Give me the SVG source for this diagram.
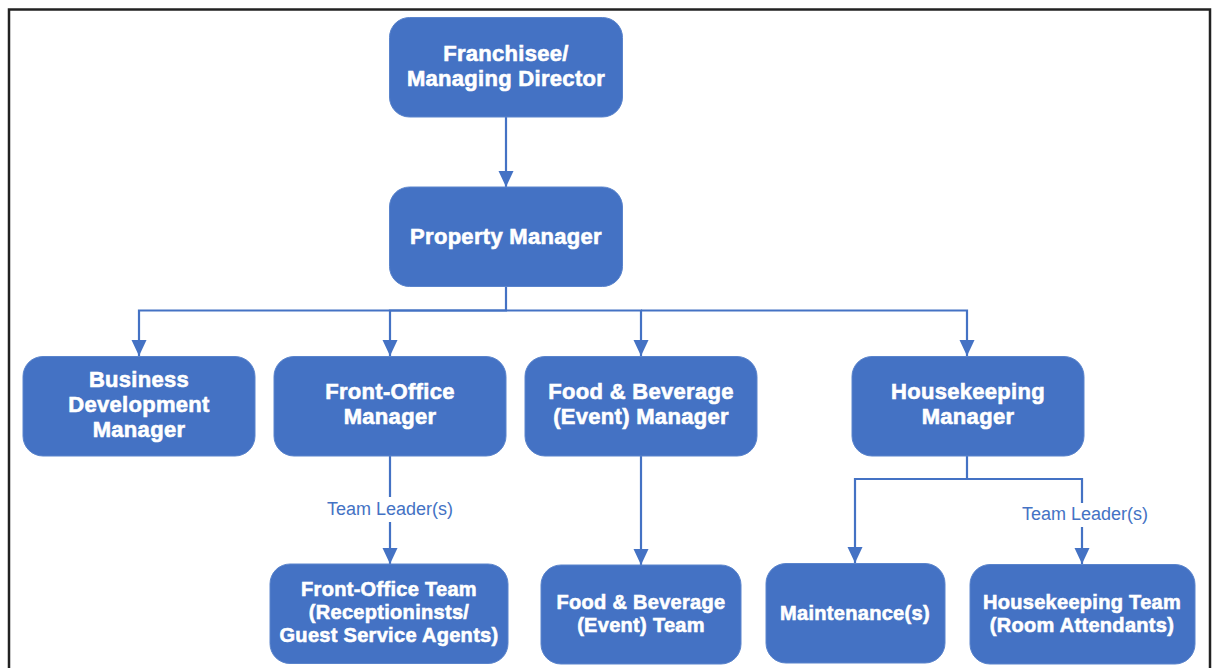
<svg xmlns="http://www.w3.org/2000/svg" width="1215" height="668" viewBox="0 0 1215 668">
  <defs>
    <marker id="arrow" viewBox="0 0 16 16" refX="16" refY="8" markerWidth="16" markerHeight="16" markerUnits="userSpaceOnUse" orient="auto">
      <path d="M0,0.5 L16,8 L0,15.5 Z" fill="#4472C4"/>
    </marker>
    <style>
      .box { fill: #4472C4; stroke: #5a84cc; stroke-width: 1; }
      .t { font-family: "Liberation Sans", Arial, sans-serif; font-weight: bold; fill: #ffffff; stroke: #ffffff; stroke-width: 0.6; text-anchor: middle; }
      .big { font-size: 22px; letter-spacing: 0.3px; }
      .small { font-size: 20px; letter-spacing: 0.3px; }
      .wire { fill: none; stroke: #4472C4; stroke-width: 2.2; }
      .lbl { font-family: "Liberation Sans", Arial, sans-serif; font-size: 18px; fill: #4472C4; text-anchor: middle; }
    </style>
  </defs>

  <rect width="1215" height="668" fill="#ffffff"/>
  <!-- outer frame -->
  <rect x="9" y="9.5" width="1201" height="700" fill="none" stroke="#222222" stroke-width="2.5"/>

  <!-- connectors -->
  <g id="connectors">
    <path class="wire" d="M506,117 V187" marker-end="url(#arrow)"/>
    <path class="wire" d="M506,286 V310.5 H139 V356" marker-end="url(#arrow)"/>
    <path class="wire" d="M506,310.5 H390 V356" marker-end="url(#arrow)"/>
    <path class="wire" d="M506,310.5 H641 V356" marker-end="url(#arrow)"/>
    <path class="wire" d="M641,310.5 H967 V356" marker-end="url(#arrow)"/>
    <path class="wire" d="M390,456 V564" marker-end="url(#arrow)"/>
    <path class="wire" d="M641,456 V565" marker-end="url(#arrow)"/>
    <path class="wire" d="M967,456 V479 H855 V563" marker-end="url(#arrow)"/>
    <path class="wire" d="M967,479 H1082 V564" marker-end="url(#arrow)"/>
    <rect x="322" y="497" width="136" height="25" fill="#ffffff"/>
    <text class="lbl" x="390" y="515">Team Leader(s)</text>
    <rect x="1017" y="503" width="136" height="24" fill="#ffffff"/>
    <text class="lbl" x="1085" y="520">Team Leader(s)</text>
  </g>

  <g id="franchisee">
    <rect class="box" x="389.5" y="17.5" width="233" height="99.5" rx="20"/>
    <text class="t big" x="506" y="61">Franchisee/</text>
    <text class="t big" x="506" y="86">Managing Director</text>
  </g>

  <g id="property-manager">
    <rect class="box" x="389.5" y="187" width="233" height="99.5" rx="20"/>
    <text class="t big" x="506" y="244">Property Manager</text>
  </g>

  <g id="business-development">
    <rect class="box" x="23" y="356.5" width="232" height="99.5" rx="20"/>
    <text class="t big" x="139" y="387">Business</text>
    <text class="t big" x="139" y="412">Development</text>
    <text class="t big" x="139" y="437">Manager</text>
  </g>

  <g id="front-office-manager">
    <rect class="box" x="274" y="356.5" width="232" height="99.5" rx="20"/>
    <text class="t big" x="390" y="399">Front-Office</text>
    <text class="t big" x="390" y="424">Manager</text>
  </g>

  <g id="fb-manager">
    <rect class="box" x="525" y="356.5" width="232" height="99.5" rx="20"/>
    <text class="t big" x="641" y="399">Food &amp; Beverage</text>
    <text class="t big" x="641" y="424">(Event) Manager</text>
  </g>

  <g id="housekeeping-manager">
    <rect class="box" x="852" y="356.5" width="232" height="99.5" rx="20"/>
    <text class="t big" x="968" y="399">Housekeeping</text>
    <text class="t big" x="968" y="424">Manager</text>
  </g>

  <g id="front-office-team">
    <rect class="box" x="270" y="564" width="238" height="99.5" rx="20"/>
    <text class="t small" x="389" y="596">Front-Office Team</text>
    <text class="t small" x="389" y="618.5">(Receptioninsts/</text>
    <text class="t small" x="389" y="641.5">Guest Service Agents)</text>
  </g>

  <g id="fb-team">
    <rect class="box" x="541" y="565" width="200" height="99" rx="20"/>
    <text class="t small" x="641" y="609">Food &amp; Beverage</text>
    <text class="t small" x="641" y="632">(Event) Team</text>
  </g>

  <g id="maintenance">
    <rect class="box" x="766" y="563.5" width="179" height="99.5" rx="20"/>
    <text class="t small" x="855" y="619.5">Maintenance(s)</text>
  </g>

  <g id="housekeeping-team">
    <rect class="box" x="970" y="564.5" width="225" height="99.5" rx="20"/>
    <text class="t small" x="1082" y="609">Housekeeping Team</text>
    <text class="t small" x="1082" y="632">(Room Attendants)</text>
  </g>
</svg>
